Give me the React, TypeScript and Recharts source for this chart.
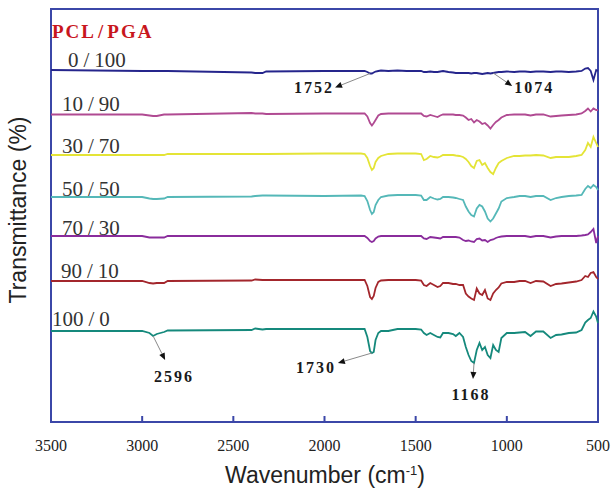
import { LineChart, Line, XAxis, YAxis, ReferenceDot, ReferenceArea } from "recharts";

// wavenumber grid (cm-1), shared by all spectra
const wavenumbers = [
  3500, 3000, 2960, 2940, 2920, 2880, 2860,
  2400, 2380, 2340, 2320,
  2000, 1800,
  1780, 1765, 1750, 1740, 1730, 1720, 1705, 1690,
  1650, 1600, 1550, 1500,
  1470, 1455, 1440, 1420, 1400, 1380, 1365, 1350,
  1320, 1295, 1280, 1260, 1240, 1225, 1210, 1195, 1180,
  1165, 1150, 1135, 1120, 1105, 1090, 1075, 1060, 1045, 1030,
  1000, 960, 930, 900, 870, 840, 800, 760, 730, 700,
  660, 620, 590, 570, 555, 540, 525, 510, 500,
];

// transmittance, arbitrary units (spectra already offset)
const pcl0 = [
  352, 351, 351, 351, 351, 351, 351,
  349.5, 349, 349, 350.5,
  351, 351,
  351, 350, 348.5, 348.5, 349.5, 350.5, 351, 351.5,
  351, 351.5, 351, 351,
  351, 350, 350, 350.5, 350, 350, 350.5, 351,
  350, 349.5, 349, 349, 349, 349, 349, 348.5, 349,
  349, 348.5, 348, 348.5, 349, 348.5, 349, 349.5, 350, 350,
  350.5, 350, 350.5, 350.5, 350, 350.5, 350.5, 350, 350.5, 350.5,
  350, 350.5, 351, 353.5, 354, 351, 342, 352, 351,
];
const pcl10 = [
  307.5, 307.5, 306.5, 306, 306, 307.5, 307.5,
  309, 308.5, 308.5, 308,
  308.5, 308.5,
  308.5, 305.5, 299, 296.5, 299, 302, 306.5, 308,
  308.5, 308.5, 308.5, 308.5,
  308.5, 306, 305.5, 307, 306, 305, 306.5, 307.5,
  307.5, 307.5, 307, 307, 306.5, 304.5, 302, 303, 299.5,
  302, 300.5, 298, 299, 296.5, 293.5, 297, 300, 302, 304.5,
  307, 307.5, 307.5, 307.5, 306.5, 307.5, 307.5, 305.5, 306, 306.5,
  307, 307.5, 308.5, 311, 313.5, 310.5, 313.5, 312, 312,
];
const pcl30 = [
  267, 267, 267, 267, 267, 267, 268,
  268, 268, 268, 268,
  268.5, 268.5,
  268, 264, 256, 252, 254, 260, 264, 266,
  268, 268.5, 268.5, 268.5,
  268, 262, 263, 266, 265, 264.5, 265.5, 267,
  267, 267, 266.5, 266, 265, 263, 260, 256, 254,
  261, 262, 257, 259, 254, 250, 248, 254, 259, 261,
  264, 266, 266, 266.5, 266.5, 267, 266.5, 264, 265, 265,
  265, 266, 267, 272, 279, 275, 285, 279, 275,
];
const pcl50 = [
  225, 225, 223.5, 223, 223, 223.5, 225,
  225.5, 226, 226.5, 226.5,
  226, 226.5,
  226, 221, 212, 208, 210, 217, 222, 225,
  226.5, 227, 227, 227,
  226.5, 222, 222, 225, 223.5, 222.5, 223, 225,
  225, 224.5, 224, 223, 222, 215.5, 210.5, 207, 205.5,
  213.5, 217, 215.5, 210.5, 203.5, 200.5, 203.5, 208.5, 213.5, 220.5,
  224, 225, 226, 226, 225, 226, 226, 222, 224, 225,
  226, 226.5, 227, 233, 236, 234, 237, 235, 232,
];
const pcl70 = [
  186, 186, 184.5, 184.5, 184.5, 184.5, 186,
  186, 186, 186, 186,
  186, 186,
  186, 184, 181, 180, 181, 183.5, 185.5, 186,
  186, 186, 186, 186,
  186, 183.5, 183, 185, 184.5, 184, 183.5, 185,
  185, 185, 185, 184.5, 182, 181, 181.5, 180.5, 180,
  183, 183.5, 181.5, 182, 180, 182, 182.5, 184, 185, 185.5,
  186, 186, 186, 186, 185, 186, 186, 184.5, 185.5, 186,
  186, 186, 186.5, 187, 187.5, 190, 193, 179, 186,
];
const pcl90 = [
  141, 141, 139, 138.5, 139, 139, 141,
  141.5, 142.5, 142, 142,
  142, 142,
  142, 136, 125, 123, 126, 134, 140, 141.5,
  142, 142, 142, 142,
  141.5, 137, 136, 139, 137, 135, 136, 139,
  139, 138, 138, 137, 137, 128.5, 125.5, 123.5, 122,
  133.5, 128.5, 127, 132, 123.5, 122, 128.5, 132, 134.5, 138.5,
  140, 140, 141, 141, 139, 141, 140.5, 136, 138, 138.5,
  139.5, 140.5, 142, 146, 145, 149, 150, 145, 143,
];
const pcl100 = [
  91, 91, 89, 86, 88, 90, 91.5,
  92, 93.5, 92.5, 93,
  93, 93,
  93, 85, 71, 69, 70, 82, 89, 91,
  91, 93, 93, 93,
  92.5, 89, 87, 89, 87, 85, 84.5, 89,
  89, 88, 86, 89, 85, 75, 67, 61, 59,
  72, 79, 72, 75, 67, 64, 77, 72, 70, 84,
  89, 89, 89.5, 90, 86, 90.5, 90.5, 84, 87, 87.5,
  89, 89.5, 92, 99.5, 102, 104, 110.5, 105.5, 99,
];

const seriesNames = ["0/100", "10/90", "30/70", "50/50", "70/30", "90/10", "100/0"];
const xTicks = [3500, 3000, 2500, 2000, 1500, 1000, 500];

// marked peaks
const peakLabels = ["1752", "1074", "2596", "1730", "1168"];
const peakWavenumbers = [1750, 1075, 2940, 1740, 1180];
const peakSeries = [0, 0, 6, 6, 6];

const SERIES = [pcl0, pcl10, pcl30, pcl50, pcl70, pcl90, pcl100];
const COLORS = ["#25258c", "#b04a92", "#e4e436", "#55b8b8", "#8a2c9c", "#a3262c", "#15897c"];
const FRAME = "#3b47a8";
const SERIF = "'Liberation Serif', 'Times New Roman', serif";
const SANS = "'Liberation Sans', Arial, sans-serif";

// name label offsets from start of each trace
const NAME_DX = [17, 11, 11, 11, 11, 10, 1];
const NAME_DY = [-3, -3.5, -2, -1.5, -1, -3, -5];

// arrow end (dx, dy) and text position relative to the marked point
const CALLOUTS = [
  { dx: -35, dy: 14, tx: -36, ty: 19, anchor: "end" },
  { dx: 19, dy: 13, tx: 21, ty: 20, anchor: "start" },
  { dx: 12, dy: 24, tx: 21, ty: 46, anchor: "middle" },
  { dx: -34, dy: 10, tx: -36, ty: 20, anchor: "end" },
  { dx: -1, dy: 16, tx: -3, ty: 37, anchor: "middle" },
];

const rows = wavenumbers.map((w, i) => {
  const r: Record<string, number> = { w };
  SERIES.forEach((s, k) => (r[`s${k}`] = s[i]));
  return r;
});

function WaveTick({ x, y, payload }: any) {
  return (
    <text x={x} y={y + 29} textAnchor="middle" fontFamily={SERIF} fontSize={16} fill="#222">
      {payload.value}
    </text>
  );
}

function Callout({ cx, cy, text, c }: any) {
  const ex = cx + c.dx;
  const ey = cy + c.dy;
  const ang = Math.atan2(c.dy, c.dx);
  const bx = ex - 7 * Math.cos(ang);
  const by = ey - 7 * Math.sin(ang);
  const px = -Math.sin(ang) * 3;
  const py = Math.cos(ang) * 3;
  return (
    <g>
      <line x1={cx} y1={cy} x2={bx} y2={by} stroke="#8a8a8a" strokeWidth={1} />
      <polygon points={`${ex},${ey} ${bx + px},${by + py} ${bx - px},${by - py}`} fill="#111" />
      <text
        x={cx + c.tx}
        y={cy + c.ty}
        textAnchor={c.anchor}
        fontFamily={SERIF}
        fontWeight="bold"
        fontSize={16}
        letterSpacing={2}
        fill="#1a1a1a"
      >
        {text}
      </text>
    </g>
  );
}

function NameLabel({ cx, cy, name, dx, dy }: any) {
  const [a, b] = name.split("/");
  return (
    <text x={cx + dx} y={cy + dy} fontFamily={SERIF} fontSize={21} fill="#333">
      <tspan>{a}</tspan>
      <tspan dx={5}>/</tspan>
      <tspan dx={5}>{b}</tspan>
    </text>
  );
}

export default function App() {
  return (
    <div style={{ position: "absolute", left: 0, top: 0, width: 612, height: 491, background: "#fff" }}>
      <LineChart width={612} height={491} data={rows} margin={{ top: 9, right: 14, bottom: 0, left: 51 }}>
        <XAxis
          dataKey="w"
          type="number"
          domain={[500, 3500]}
          reversed
          ticks={xTicks}
          interval={0}
          height={69}
          tickSize={-6}
          tickMargin={6}
          tickLine={{ stroke: FRAME, strokeWidth: 2 }}
          tick={<WaveTick />}
          axisLine={{ stroke: FRAME, strokeWidth: 2 }}
        />
        <YAxis
          type="number"
          domain={[0, 413]}
          width={0}
          tick={false}
          tickLine={false}
          axisLine={{ stroke: FRAME, strokeWidth: 2 }}
        />
        <ReferenceArea
          x1={3500}
          x2={500}
          y1={0}
          y2={413}
          fill="none"
          fillOpacity={0}
          stroke={FRAME}
          strokeWidth={2}
          ifOverflow="visible"
        />
        {SERIES.map((_, k) => (
          <Line
            key={seriesNames[k]}
            dataKey={`s${k}`}
            name={seriesNames[k]}
            type="linear"
            stroke={COLORS[k]}
            strokeWidth={1.8}
            dot={false}
            activeDot={false}
            isAnimationActive={false}
          />
        ))}
        {SERIES.map((s, k) => (
          <ReferenceDot
            key={`name-${k}`}
            x={wavenumbers[0]}
            y={s[0]}
            r={1}
            ifOverflow="visible"
            shape={(p: any) => <NameLabel cx={p.cx} cy={p.cy} name={seriesNames[k]} dx={NAME_DX[k]} dy={NAME_DY[k]} />}
          />
        ))}
        {peakLabels.map((lab, i) => (
          <ReferenceDot
            key={`peak-${lab}`}
            x={peakWavenumbers[i]}
            y={SERIES[peakSeries[i]][wavenumbers.indexOf(peakWavenumbers[i])]}
            r={1}
            ifOverflow="visible"
            shape={(p: any) => <Callout cx={p.cx} cy={p.cy} text={lab} c={CALLOUTS[i]} />}
          />
        ))}
        <text x={52} y={38} fontFamily={SERIF} fontWeight="bold" fontSize={19} fill="#c8161d" letterSpacing={2}>
          <tspan>PCL</tspan>
          <tspan dx={2}>/</tspan>
          <tspan dx={2}>PGA</tspan>
        </text>
        <text
          x={26}
          y={210}
          transform="rotate(-90 26 210)"
          textAnchor="middle"
          fontFamily={SANS}
          fontSize={23}
          fill="#222"
        >
          Transmittance (%)
        </text>
        <text x={325} y={483} textAnchor="middle" fontFamily={SANS} fontSize={23} fill="#222">
          Wavenumber (cm
          <tspan dy={-8} fontSize={13}>-1</tspan>
          <tspan dy={8}>)</tspan>
        </text>
      </LineChart>
    </div>
  );
}
